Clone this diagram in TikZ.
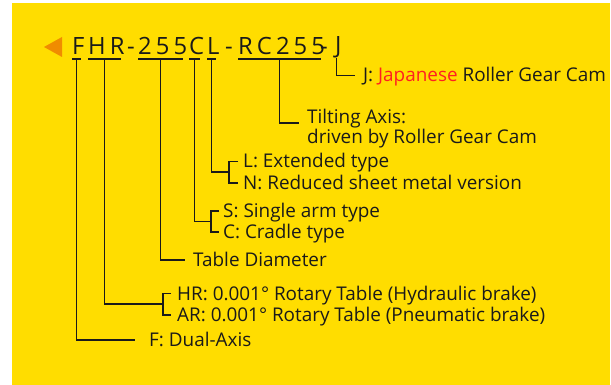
\documentclass[tikz,border=0pt]{standalone}
\usepackage{fontspec}
\setmainfont{Open Sans}
\newfontfamily\codefont[LetterSpace=17]{Open Sans}
\usetikzlibrary{positioning,calc}
\definecolor{plate}{HTML}{FFDD00}
\definecolor{marker}{HTML}{F08C00}
\definecolor{jred}{HTML}{FF2020}
\definecolor{ink}{HTML}{1A1A1A}
\tikzset{
  seg/.style={inner xsep=0pt, inner ysep=4pt, text depth=0pt, anchor=base west, text=ink,
    font=\codefont\fontsize{23.8}{24}\selectfont, execute at end node=\kern-0.17em},
  desc/.style={inner sep=0pt, text height=13pt, text depth=0pt, anchor=west, text=ink,
    font=\fontsize{18.9}{18}\selectfont},
  link/.style={draw=ink, line width=1.6pt},
  uline/.style={draw=ink, line width=1.5pt}
}

\begin{document}
\begin{tikzpicture}[x=1pt, y=-1pt]
  \fill[white] (0,0) rectangle (611,385);
  \useasboundingbox (0,0) rectangle (611,385);
  \fill[plate] (12,3) rectangle (610,385);
  \fill[marker] (62,37) -- (62,57) -- (44,47) -- cycle;
  % part number
  \node[seg] (sF) at (72,55) {F};
  \node[seg] (sHR) at (88,55) {HR};
  \node[seg] (h1) at (127,55) {-};
  \node[seg] (s255) at (138,55) {255};
  \node[seg] (sC) at (189,55) {C};
  \node[seg] (sL) at (207,55) {L};
  \node[seg] (h2) at (225,55) {-};
  \node[seg] (sRC) at (238,55) {RC255};
  \node[seg] (h3) at (320,55) {-};
  \node[seg] (sJ) at (335,54) {J};
  \foreach \s in {sF,sHR,s255,sC,sL,sRC}
    \draw[uline] (\s.south west) -- (\s.south east);
  % meanings
  \node[desc] (jcam) at (363,75.5) {J: \textcolor{jred}{Japanese} Roller Gear Cam};
  \node[inner sep=0pt, anchor=north west, align=left, text=ink,
    font=\fontsize{18.9}{18}\selectfont] (tilt) at (307,108.6) {Tilting Axis:\\driven by Roller Gear Cam};
  \node[desc] (ext) at (243,161.5) {L: Extended type};
  \node[desc] (red) at (243,183) {N: Reduced sheet metal version};
  \node[desc] (single) at (223,211) {S: Single arm type};
  \node[desc] (cradle) at (223,232) {C: Cradle type};
  \node[desc] (tdiam) at (193,260) {Table Diameter};
  \node[desc] (hr) at (177,293.5) {HR: 0.001° Rotary Table (Hydraulic brake)};
  \node[desc] (ar) at (177,315) {AR: 0.001° Rotary Table (Pneumatic brake)};
  \node[desc] (dual) at (149,340) {F: Dual-Axis};
  % connectors
  \draw[link] (sJ.south) |- ([xshift=-8pt]jcam.west);
  \draw[link] (sRC.south) |- ([xshift=-8pt,yshift=-14.4pt]tilt.north west);
  \draw[link] ([xshift=-5pt]ext.west) -- ++(-9,0) |- ([xshift=-5pt]red.west);
  \draw[link] (sL.south) |- ($(ext.west)!0.5!(red.west)+(-14,0)$);
  \draw[link] ([xshift=-4pt]single.west) -- ++(-8,0) |- ([xshift=-4pt]cradle.west);
  \draw[link] (sC.south) |- ($(single.west)!0.5!(cradle.west)+(-12,0)$);
  \draw[link] (s255.south) |- ([xshift=-8pt]tdiam.west);
  \draw[link] ([xshift=-6pt]hr.west) -- ++(-8,0) |- ([xshift=-6pt]ar.west);
  \draw[link] (sHR.south) |- ($(hr.west)!0.5!(ar.west)+(-14,0)$);
  \draw[link] (sF.south) |- ([xshift=-14pt]dual.west);
\end{tikzpicture}
\end{document}
